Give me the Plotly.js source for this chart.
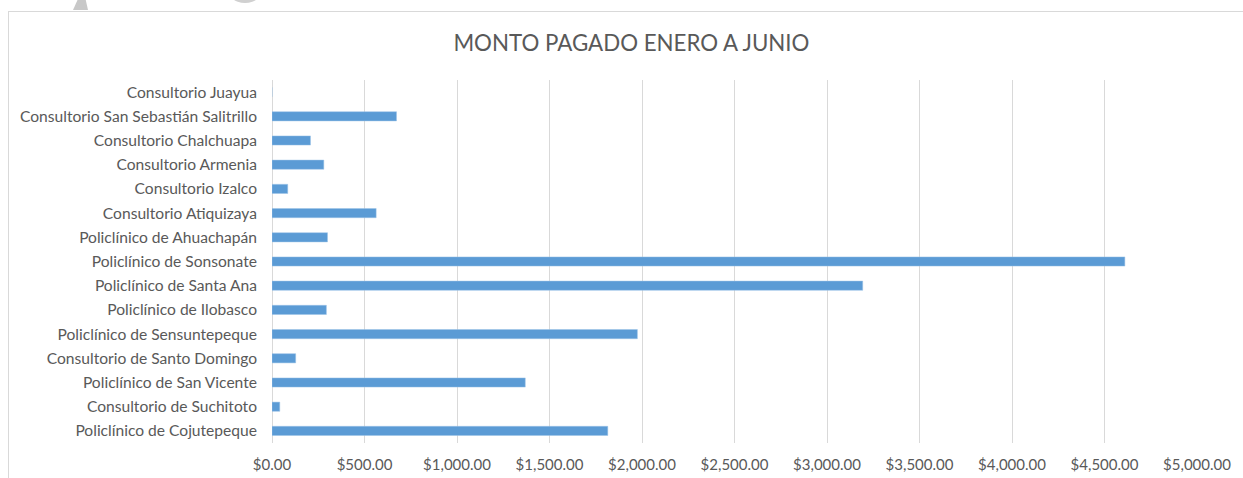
<!DOCTYPE html>
<html>
<head>
<meta charset="utf-8">
<script src="https://cdn.plot.ly/plotly-3.0.1.min.js"></script>
<style>
  html, body { margin: 0; padding: 0; background: #ffffff; overflow: hidden; }
  #wrap { position: relative; width: 1243px; height: 478px; }
  #chart { position: absolute; left: 0; top: 0; width: 1243px; height: 478px; }
  #frame { position: absolute; left: 8px; top: 11px; width: 1260px; height: 490px;
           border: 1.5px solid #d9d9d9; box-sizing: border-box; pointer-events: none; }
  #blob1 { position: absolute; left: 73px; top: 0; width: 15px; height: 10px; background: #c8c8c8;
           clip-path: polygon(30% 0, 85% 0, 100% 100%, 0 100%); pointer-events: none; }
  #blob2 { position: absolute; left: 226px; top: -30px; width: 38px; height: 33px;
           border-radius: 50%; background: #d0d0d0; pointer-events: none; }
</style>
</head>
<body>
<div id="wrap">
  <div id="chart"></div>
  <div id="frame"></div>
  <div id="blob1"></div>
  <div id="blob2"></div>
</div>
<script>
// Categories listed bottom-to-top (Plotly draws the first category at the bottom)
const categories = [
  "Policlínico de Cojutepeque",
  "Consultorio de Suchitoto",
  "Policlínico de San Vicente",
  "Consultorio de Santo Domingo",
  "Policlínico de Sensuntepeque",
  "Policlínico de Ilobasco",
  "Policlínico de Santa Ana",
  "Policlínico de Sonsonate",
  "Policlínico de Ahuachapán",
  "Consultorio Atiquizaya",
  "Consultorio Izalco",
  "Consultorio Armenia",
  "Consultorio Chalchuapa",
  "Consultorio San Sebastián Salitrillo",
  "Consultorio Juayua"
];
const montoPagado = [1815, 42, 1369, 128, 1975, 294, 3193, 4610, 300, 563, 85, 280, 208, 673, 0];
const xTickValues = [0, 500, 1000, 1500, 2000, 2500, 3000, 3500, 4000, 4500, 5000];
const chartTitle = "MONTO PAGADO ENERO A JUNIO";

const textColor = "#595959";
const fontFamily = "Lato, 'Open Sans', 'Liberation Sans', sans-serif";

const trace = {
  type: "bar",
  orientation: "h",
  x: montoPagado,
  y: categories,
  marker: { color: "#5b9bd5", line: { color: "#9dc3e6", width: 0.5 } },
  hoverinfo: "x+y"
};

const layout = {
  width: 1243,
  height: 478,
  paper_bgcolor: "rgba(0,0,0,0)",
  plot_bgcolor: "#ffffff",
  margin: { l: 272, r: 46, t: 80, b: 35 },
  showlegend: false,
  bargap: 0.62,
  title: {
    text: chartTitle,
    x: 0.508, xanchor: "center",
    y: 0.91, yanchor: "middle",
    font: { family: fontFamily, size: 22.3, color: textColor }
  },
  font: { family: fontFamily, size: 15, color: textColor },
  xaxis: {
    range: [0, 5000],
    tickvals: xTickValues,
    tickformat: "$,.2f",
    showgrid: true,
    gridcolor: "#d9d9d9",
    gridwidth: 1,
    zeroline: true,
    zerolinecolor: "#d9d9d9",
    zerolinewidth: 1,
    showline: false,
    ticks: "",
    ticklabelstandoff: 11,
    automargin: false,
    fixedrange: true,
    tickfont: { family: fontFamily, size: 15, color: textColor }
  },
  yaxis: {
    type: "category",
    categoryorder: "array",
    categoryarray: categories,
    showgrid: false,
    zeroline: false,
    showline: false,
    ticks: "",
    ticklabelstandoff: 14,
    automargin: false,
    fixedrange: true,
    tickfont: { family: fontFamily, size: 15.6, color: textColor }
  }
};

Plotly.newPlot("chart", [trace], layout, { displayModeBar: false, staticPlot: true });
</script>
</body>
</html>
